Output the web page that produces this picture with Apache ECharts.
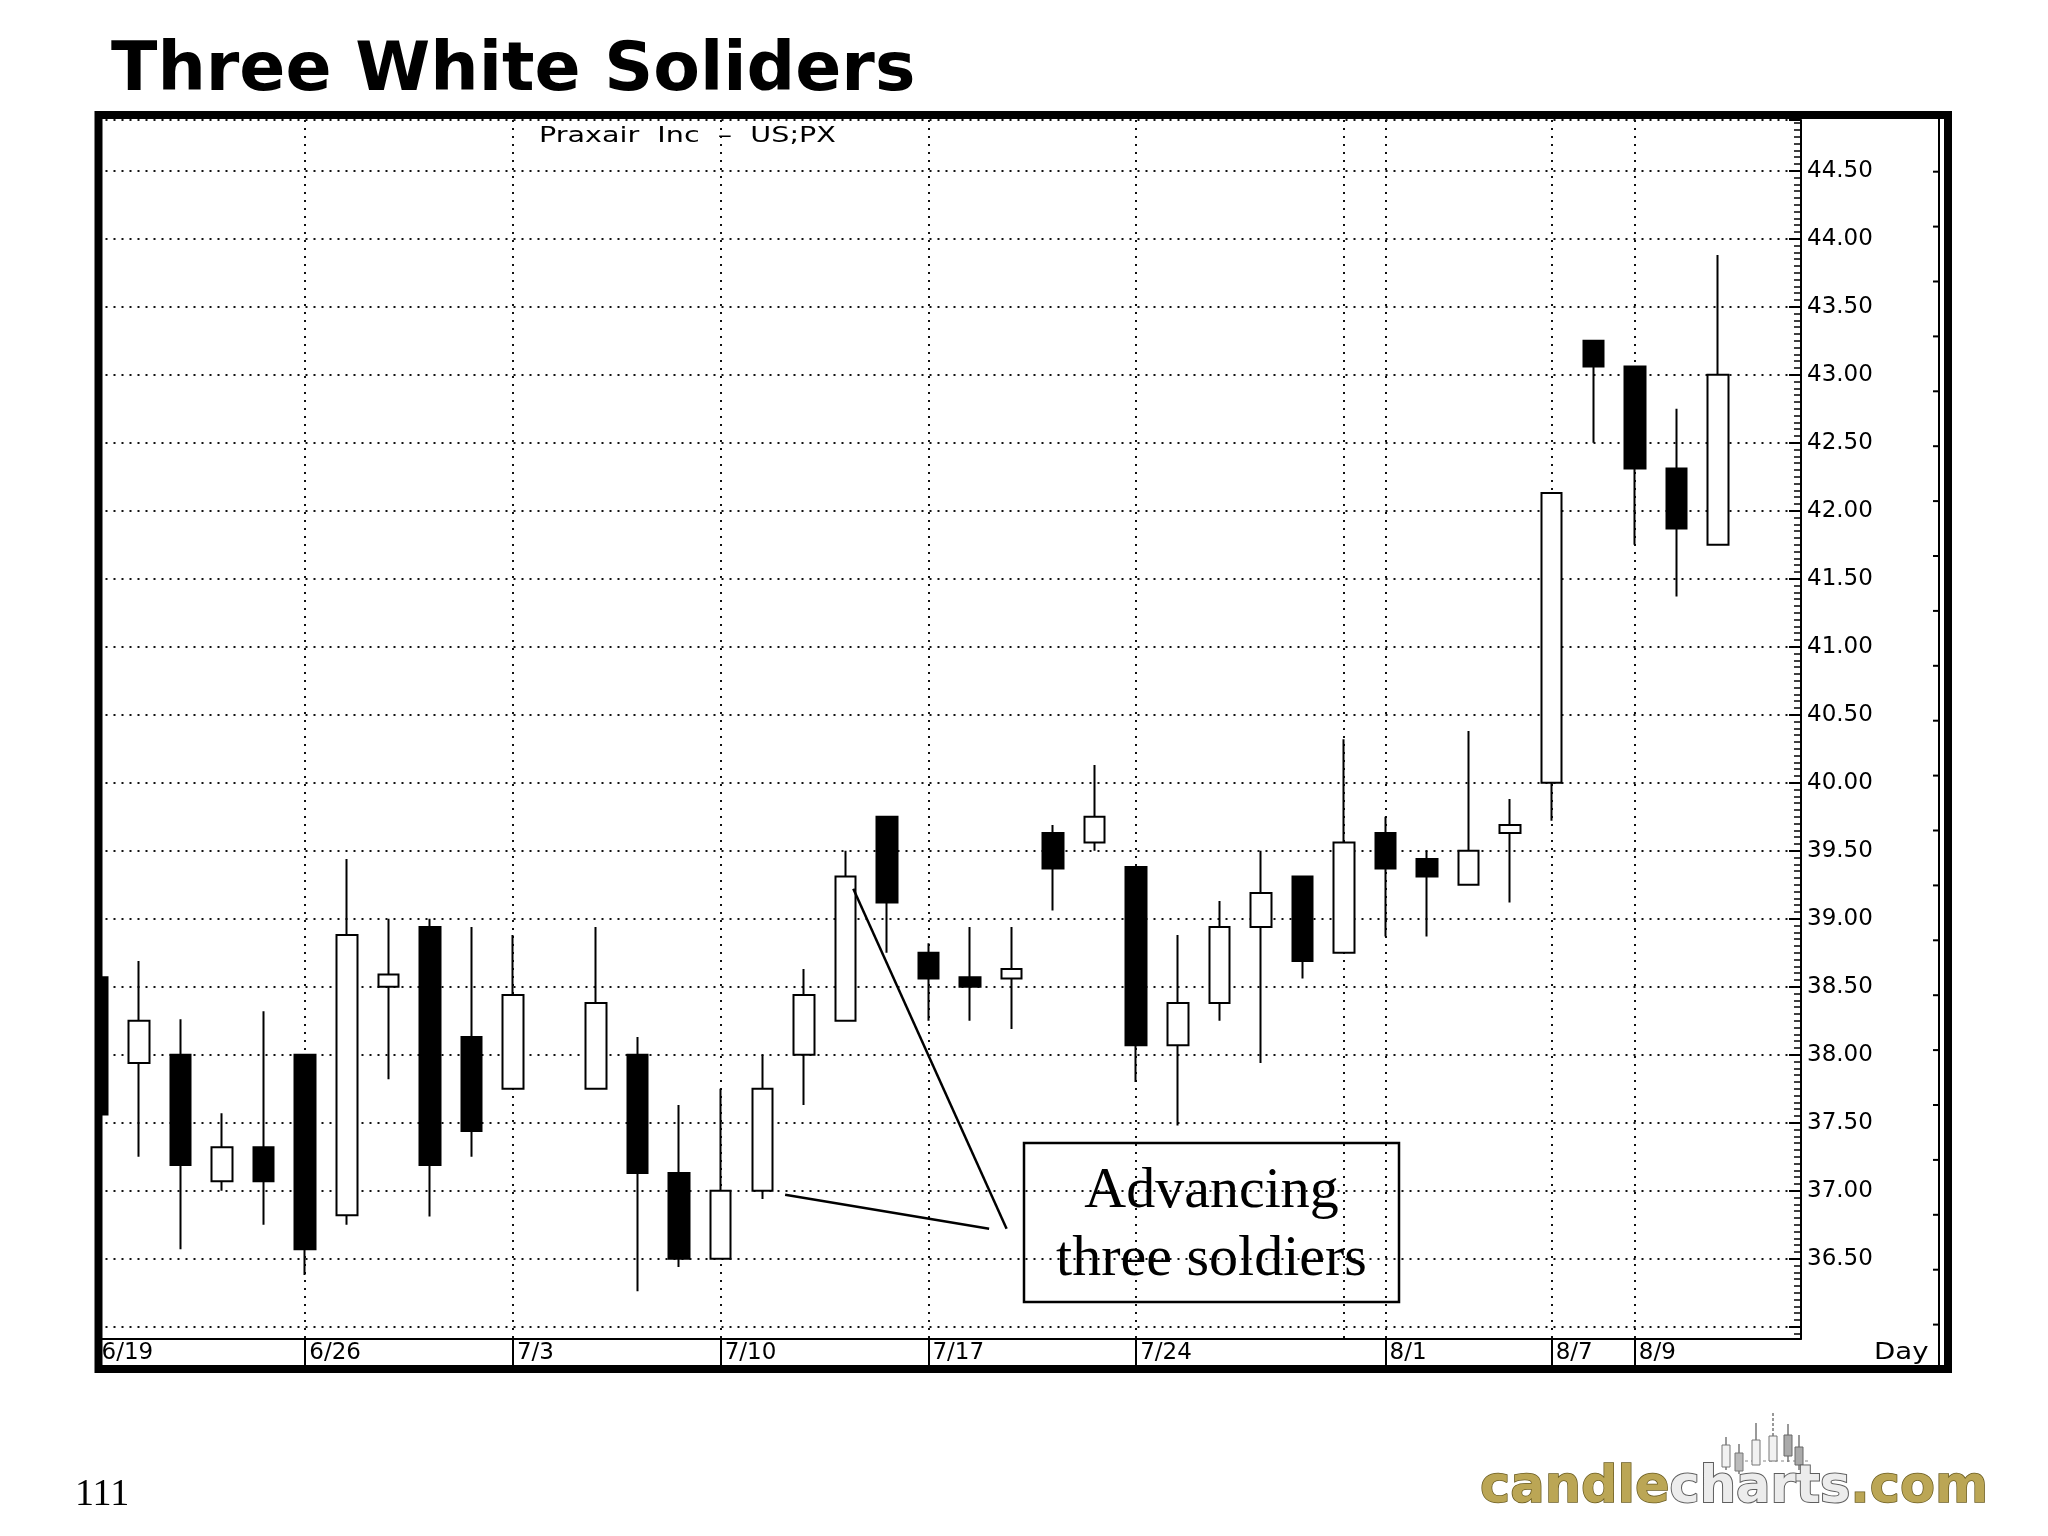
<!DOCTYPE html>
<html>
<head>
<meta charset="utf-8">
<script src="https://cdn.jsdelivr.net/npm/echarts@6/dist/echarts.min.js"></script>
<style>
html,body{margin:0;padding:0;background:#fff;}
#c{width:2048px;height:1536px;}
</style>
</head>
<body>
<div id="c"></div>
<script>
// ---- data (trading days; 7/4 holiday and 8/14, 8/15 empty) ----
const dates = ['6/19','6/20','6/21','6/22','6/23','6/26','6/27','6/28','6/29','6/30',
  '7/3','7/4','7/5','7/6','7/7','7/10','7/11','7/12','7/13','7/14',
  '7/17','7/18','7/19','7/20','7/21','7/24','7/25','7/26','7/27','7/28',
  '7/31','8/1','8/2','8/3','8/4','8/7','8/8','8/9','8/10','8/11','8/14','8/15'];
const opens  = [38.57,37.94,38.00,37.07,37.32,38.00,36.82,38.50,38.94,38.13,
  37.75,null,37.75,38.00,37.13,36.50,37.00,38.00,38.25,39.75,
  38.75,38.57,38.56,39.63,39.56,39.38,38.07,38.38,38.94,39.31,
  38.75,39.63,39.44,39.25,39.63,40.00,43.25,43.06,42.31,41.75,null,null];
const closes = [37.56,38.25,37.19,37.32,37.07,36.57,38.88,38.59,37.19,37.44,
  38.44,null,38.38,37.13,36.50,37.00,37.75,38.44,39.31,39.12,
  38.56,38.50,38.63,39.37,39.75,38.07,38.38,38.94,39.19,38.69,
  39.56,39.37,39.31,39.50,39.69,42.13,43.06,42.31,41.87,43.00,null,null];
const lows   = [37.56,37.25,36.57,37.00,36.75,36.38,36.75,37.82,36.81,37.25,
  37.75,null,37.75,36.26,36.44,36.50,36.94,37.63,38.25,38.75,
  38.25,38.25,38.19,39.06,39.50,37.80,37.48,38.25,37.94,38.56,
  38.75,38.87,38.87,39.25,39.12,39.72,42.50,41.75,41.37,41.75,null,null];
const highs  = [38.57,38.69,38.26,37.57,38.32,38.00,39.44,39.00,39.00,38.94,
  38.88,null,38.94,38.13,37.63,37.75,38.00,38.63,39.50,39.75,
  38.82,38.94,38.94,39.69,40.13,39.38,38.88,39.13,39.50,39.31,
  40.32,39.75,39.50,40.38,39.88,42.13,43.25,43.06,42.75,43.88,null,null];

const labelDates = ['6/19','6/26','7/3','7/10','7/17','7/24','8/1','8/7','8/9'];
const gridDates  = ['6/19','6/26','7/3','7/10','7/17','7/24','7/31','8/1','8/7','8/9'];

// annotation pointers in (day-slot, price) units
const pointerA = [[16.55, 36.97], [21.46, 36.72]];
const pointerB = [[18.19, 39.22], [21.88, 36.72]];

const title = 'Three White Soliders';
const subtitle = 'Praxair  Inc  –  US;PX';
const noteLines = ['Advancing', 'three soldiers'];
const pageNo = '111';

// ---- build ----
const candleData = dates.map((d, i) => opens[i] == null ? '-' : [opens[i], closes[i], lows[i], highs[i]]);

const dotted = { color: '#111', width: 2, type: [2, 6] };

// small decorative ticks on the inner right frame line
const frameTicks = [];
for (let k = 0; k < 22; k++) {
  const y = 171.7 + k * 54.9;
  frameTicks.push({ type: 'line', shape: { x1: 1933, y1: y, x2: 1939, y2: y }, style: { stroke: '#000', lineWidth: 2 } });
}

const chart = echarts.init(document.getElementById('c'), null, { renderer: 'canvas', width: 2048, height: 1536 });

const option = {
  animation: false,
  backgroundColor: '#fff',
  grid: { left: 97.5, top: 120, width: 1703.5, height: 1218.7, show: false },
  xAxis: [{
    type: 'category',
    data: dates,
    boundaryGap: false,
    axisLine: { show: true, onZero: false, lineStyle: { color: '#000', width: 2 } },
    axisTick: { show: true, interval: (i, v) => labelDates.includes(v), length: 27, lineStyle: { color: '#000', width: 2 } },
    axisLabel: {
      interval: (i, v) => labelDates.includes(v),
      align: 'left', margin: 3, padding: [0, 0, 0, 4],
      fontFamily: 'DejaVu Sans', fontSize: 23, color: '#000'
    },
    splitLine: { show: true, interval: (i, v) => gridDates.includes(v), lineStyle: dotted }
  }, {
    type: 'value', min: 0, max: 41, show: false
  }],
  yAxis: {
    type: 'value',
    position: 'right',
    min: 35.912, max: 44.873,
    splitNumber: 18, minInterval: 0.5, maxInterval: 0.5,
    axisLine: { show: true, onZero: false, lineStyle: { color: '#000', width: 2 } },
    axisTick: { show: true, inside: true, length: 12, lineStyle: { color: '#000', width: 2 } },
    minorTick: { show: true, splitNumber: 10, length: 7, lineStyle: { color: '#000', width: 1.5 } },
    axisLabel: {
      showMinLabel: false, showMaxLabel: false, margin: 6,
      fontFamily: 'DejaVu Sans', fontSize: 23, color: '#000',
      formatter: v => (v >= 36.25 && v <= 44.6 && Math.abs(v * 2 - Math.round(v * 2)) < 1e-6) ? v.toFixed(2) : ''
    },
    splitLine: { show: true, lineStyle: dotted }
  },
  series: [{
    type: 'candlestick',
    data: candleData,
    barWidth: 21,
    silent: true,
    itemStyle: { color: '#fff', color0: '#000', borderColor: '#000', borderColor0: '#000', borderWidth: 2 }
  }, {
    type: 'line', xAxisIndex: 1, data: pointerA, symbol: 'none', silent: true,
    lineStyle: { color: '#000', width: 2.5 }, z: 5
  }, {
    type: 'line', xAxisIndex: 1, data: pointerB, symbol: 'none', silent: true,
    lineStyle: { color: '#000', width: 2.5 }, z: 5
  }],
  graphic: [
    // mask left of frame
    { type: 'rect', z: 90, silent: true, shape: { x: 0, y: 100, width: 95, height: 1300 }, style: { fill: '#fff' } },
    // outer frame
    { type: 'rect', z: 100, silent: true, shape: { x: 98.5, y: 115, width: 1849.5, height: 1254 }, style: { fill: null, stroke: '#000', lineWidth: 8 } },
    // thin inner right line with small ticks
    { type: 'line', z: 100, silent: true, shape: { x1: 1939, y1: 119, x2: 1939, y2: 1365 }, style: { stroke: '#000', lineWidth: 2 } },
    { type: 'group', z: 100, silent: true, children: frameTicks },
    // title
    { type: 'text', z: 100, x: 111, y: 72.5, style: { text: title, font: 'bold 68px "DejaVu Sans"', fill: '#000', align: 'left', verticalAlign: 'middle' } },
    // subtitle
    { type: 'text', z: 100, x: 539, y: 136, scaleX: 1.3, style: { text: subtitle, font: '22px "DejaVu Sans"', fill: '#000', align: 'left', verticalAlign: 'middle' } },
    // Day
    { type: 'text', z: 100, x: 1874, y: 1353, scaleX: 1.2, style: { text: 'Day', font: '23px "DejaVu Sans"', fill: '#000', align: 'left', verticalAlign: 'middle' } },
    // annotation box
    { type: 'rect', z: 100, silent: true, shape: { x: 1024, y: 1143, width: 375, height: 159 }, style: { fill: null, stroke: '#000', lineWidth: 2.5 } },
    { type: 'text', z: 100, x: 1211.5, y: 1191.3, style: { text: noteLines[0], font: '58px "Liberation Serif"', fill: '#000', align: 'center', verticalAlign: 'middle' } },
    { type: 'text', z: 100, x: 1211.5, y: 1259.3, style: { text: noteLines[1], font: '58px "Liberation Serif"', fill: '#000', align: 'center', verticalAlign: 'middle' } },
    // page number
    { type: 'text', z: 100, x: 75, y: 1495.4, style: { text: pageNo, font: '38px "Liberation Serif"', fill: '#000', align: 'left', verticalAlign: 'middle' } },
    // logo text
    { type: 'text', z: 100, x: 1480, y: 1489, style: {
        text: '{a|candle}{b|charts}{a|.com}',
        font: 'bold 51px "DejaVu Sans"', align: 'left', verticalAlign: 'middle',
        rich: {
          a: { font: 'bold 51px "DejaVu Sans"', fill: '#bba655', stroke: '#6a5c22', lineWidth: 1.5 },
          b: { font: 'bold 51px "DejaVu Sans"', fill: '#ececec', stroke: '#5e5e5e', lineWidth: 2 }
        }
      } },
    // logo mini candles
    { type: 'group', z: 100, silent: true, children: [
      { type: 'line', shape: { x1: 1745, y1: 1461, x2: 1808, y2: 1461 }, style: { stroke: '#888', lineWidth: 1, lineDash: [3, 3] } },
      { type: 'line', shape: { x1: 1726, y1: 1437, x2: 1726, y2: 1470 }, style: { stroke: '#777', lineWidth: 1.5 } },
      { type: 'rect', shape: { x: 1722, y: 1445, width: 8, height: 22 }, style: { fill: '#f2f2f2', stroke: '#777', lineWidth: 1 } },
      { type: 'line', shape: { x1: 1739, y1: 1444, x2: 1739, y2: 1474 }, style: { stroke: '#777', lineWidth: 1.5 } },
      { type: 'rect', shape: { x: 1735, y: 1453, width: 8, height: 18 }, style: { fill: '#bbb', stroke: '#777', lineWidth: 1 } },
      { type: 'line', shape: { x1: 1756, y1: 1423, x2: 1756, y2: 1465 }, style: { stroke: '#777', lineWidth: 1.5 } },
      { type: 'rect', shape: { x: 1752, y: 1440, width: 8, height: 25 }, style: { fill: '#f2f2f2', stroke: '#777', lineWidth: 1 } },
      { type: 'line', shape: { x1: 1773, y1: 1413, x2: 1773, y2: 1462 }, style: { stroke: '#777', lineWidth: 1.5, lineDash: [3, 2] } },
      { type: 'rect', shape: { x: 1769, y: 1436, width: 8, height: 25 }, style: { fill: '#f2f2f2', stroke: '#777', lineWidth: 1 } },
      { type: 'line', shape: { x1: 1788, y1: 1424, x2: 1788, y2: 1462 }, style: { stroke: '#777', lineWidth: 1.5 } },
      { type: 'rect', shape: { x: 1784, y: 1435, width: 8, height: 21 }, style: { fill: '#aaa', stroke: '#666', lineWidth: 1 } },
      { type: 'line', shape: { x1: 1799, y1: 1435, x2: 1799, y2: 1470 }, style: { stroke: '#777', lineWidth: 1.5 } },
      { type: 'rect', shape: { x: 1795, y: 1447, width: 8, height: 18 }, style: { fill: '#aaa', stroke: '#666', lineWidth: 1 } }
    ] }
  ]
};
chart.setOption(option);
</script>
</body>
</html>
